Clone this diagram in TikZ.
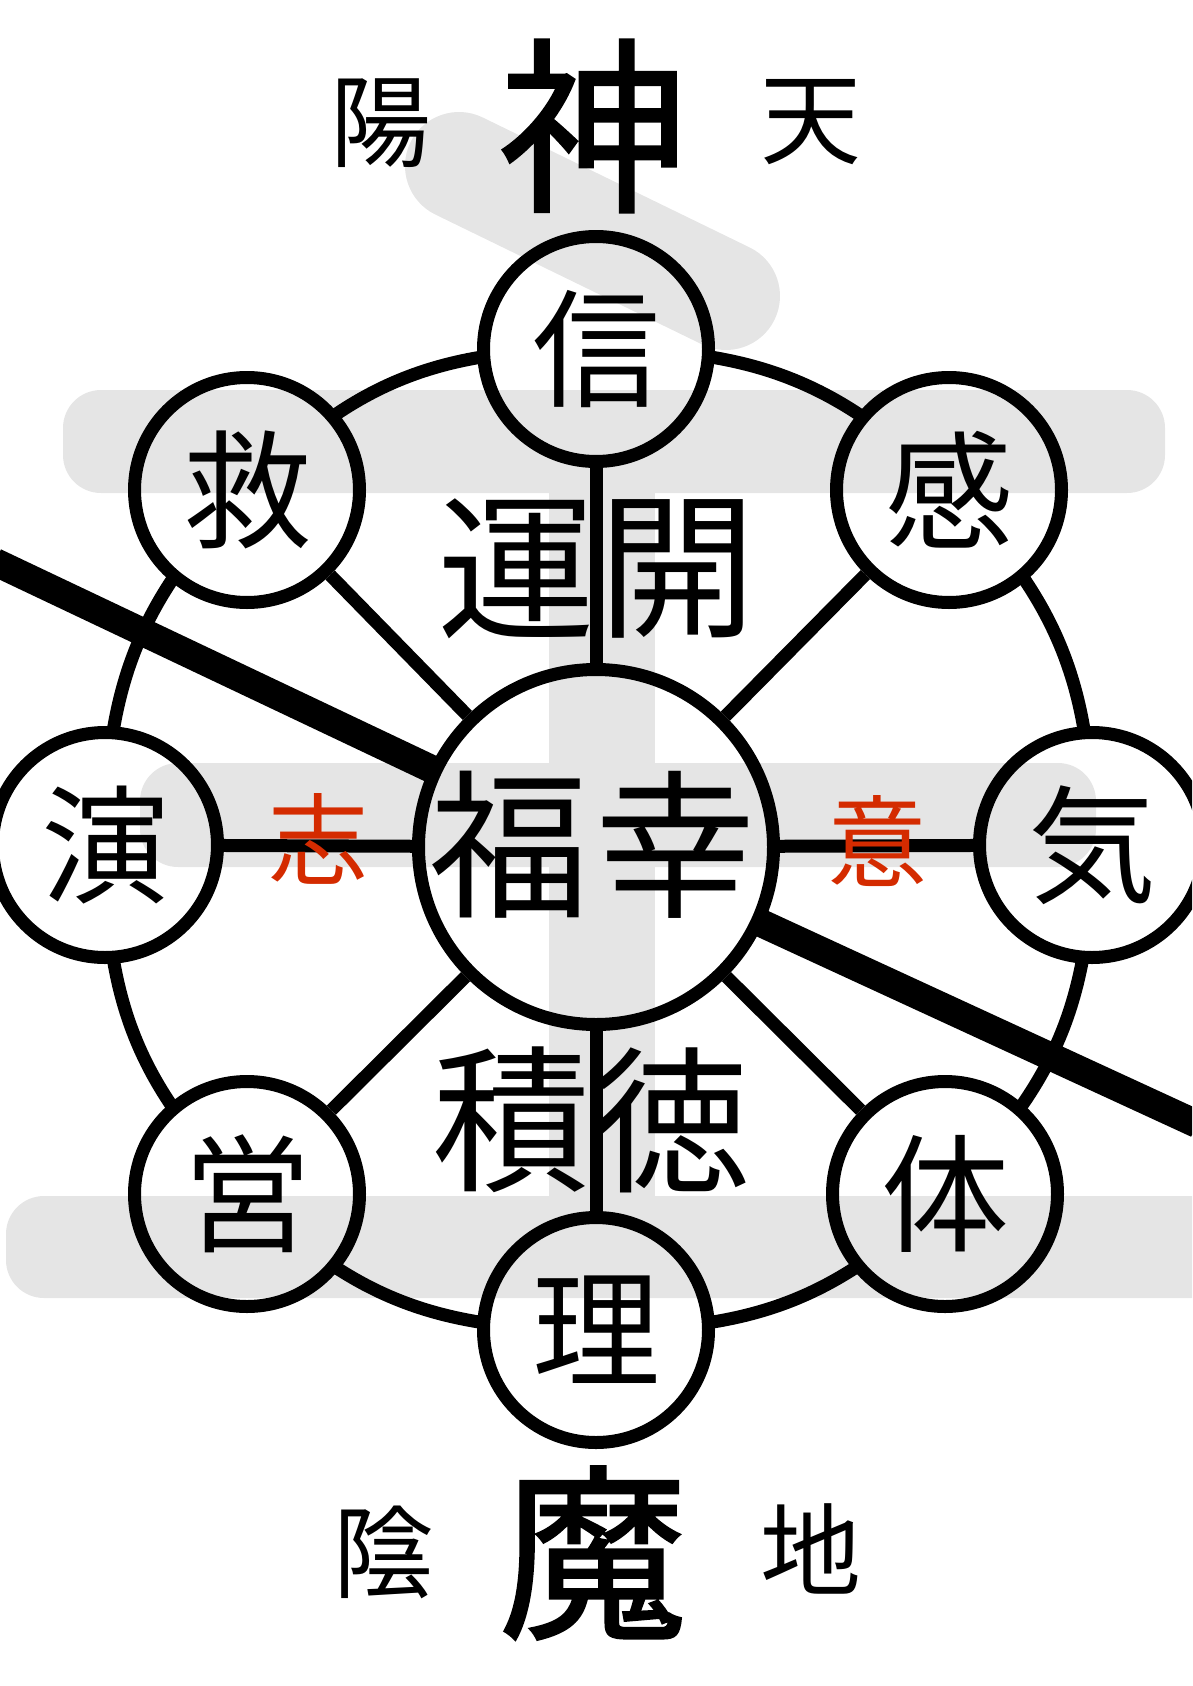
\documentclass[tikz,border=0pt]{standalone}
\usepackage{fontspec}
\newfontfamily\jp{Noto Sans CJK JP}
\newfontfamily\jpfb{Noto Sans CJK JP}[FakeBold=1.2]
\definecolor{bggray}{RGB}{229,229,229}
\definecolor{kred}{RGB}{212,43,0}
\begin{document}
\begin{tikzpicture}[x=1pt,y=-1pt,
  ringline/.style={line width=13pt, black},
  bub/.style={circle, draw, line width=13pt, minimum size=225pt, inner sep=0pt, font=\jp\fontsize{128}{128}\selectfont},
  hub/.style={circle, draw, line width=13pt, minimum size=355pt, inner sep=0pt},
  bigtxt/.style={inner sep=0pt, font=\jpfb\fontsize{188}{188}\selectfont},
  sidetxt/.style={inner sep=0pt, font=\jp\fontsize{101}{101}\selectfont},
  midtxt/.style={inner sep=0pt, font=\jp\fontsize{158}{158}\selectfont},
  hubtxt/.style={inner sep=0pt, font=\jp\fontsize{160}{160}\selectfont},
  redtxt/.style={inner sep=0pt, text=kred, font=\jp\fontsize{100}{100}\selectfont},
  heavyline/.style={line width=28pt, black},
  bgstroke/.style={fill=bggray, rounded corners=38pt}
]
\useasboundingbox (0,0) rectangle (1192,1686);
\clip (0,0) rectangle (1192,1686);
% background character strokes
\fill[bgstroke] (63,390) rectangle (1165,493);
\fill[bgstroke] (140,763) rectangle (1096,867);
\fill[bgstroke] (6,1196) rectangle (1260,1298);
\fill[bggray] (549,470) rectangle (655,1220);
\draw[bggray, line width=108pt, line cap=round] (459,166) -- (726,296);

% circles
\node[hub] (hub) at (596,847) {};
\node[bub] (xin) at (596,349) {信};
\node[bub] (kan) at (949,490) {感};
\node[bub] (ki) at (1092,845) {気};
\node[bub] (tai) at (945,1194) {体};
\node[bub] (ri) at (596,1330) {理};
\node[bub] (ei) at (247,1194) {営};
\node[bub] (en) at (105,845) {演};
\node[bub] (kyu) at (247,490) {救};

% spokes
\foreach \n in {xin,kan,ki,tai,ri,ei,en,kyu} \draw[ringline] (hub) -- (\n);

% ring, hidden inside the circles
\begin{scope}[even odd rule]
\clip (-100,-100) rectangle (1300,1800)
  (xin.center) circle[radius=113] (kan.center) circle[radius=113]
  (ki.center) circle[radius=113] (tai.center) circle[radius=113]
  (ri.center) circle[radius=113] (ei.center) circle[radius=113]
  (en.center) circle[radius=113] (kyu.center) circle[radius=113];
\draw[ringline] plot[smooth cycle, tension=0.8] coordinates
  {(xin.center) (kan.center) (ki.center) (tai.center) (ri.center) (ei.center) (en.center) (kyu.center)};
\end{scope}

% heavy diagonal
\coordinate (tl) at (-5,562);
\coordinate (tr) at (1197,1124);
\draw[heavyline, shorten >=-6pt] (tl) -- (hub);
\draw[heavyline, shorten <=-6pt] (hub) -- (tr);

% texts
\node[hubtxt] (fuku) at (509,845) {福};
\node[hubtxt] (kou) at (675,845) {幸};
\node[midtxt] (un) at (516,569) {運};
\node[midtxt] (kai) at (677,569) {開};
\node[midtxt] (seki) at (511,1120) {積};
\node[midtxt] (toku) at (671,1120) {徳};
\node[redtxt] (shi) at (318,839) {志};
\node[redtxt] (iten) at (877,841) {意};
\node[bigtxt] (shin) at (593,126) {神};
\node[sidetxt] (you) at (381,123) {陽};
\node[sidetxt] (ten) at (811,122) {天};
\node[bigtxt] (ma) at (593,1553) {魔};
\node[sidetxt] (yin) at (384,1552) {陰};
\node[sidetxt] (chi) at (811,1549) {地};
\end{tikzpicture}
\end{document}
